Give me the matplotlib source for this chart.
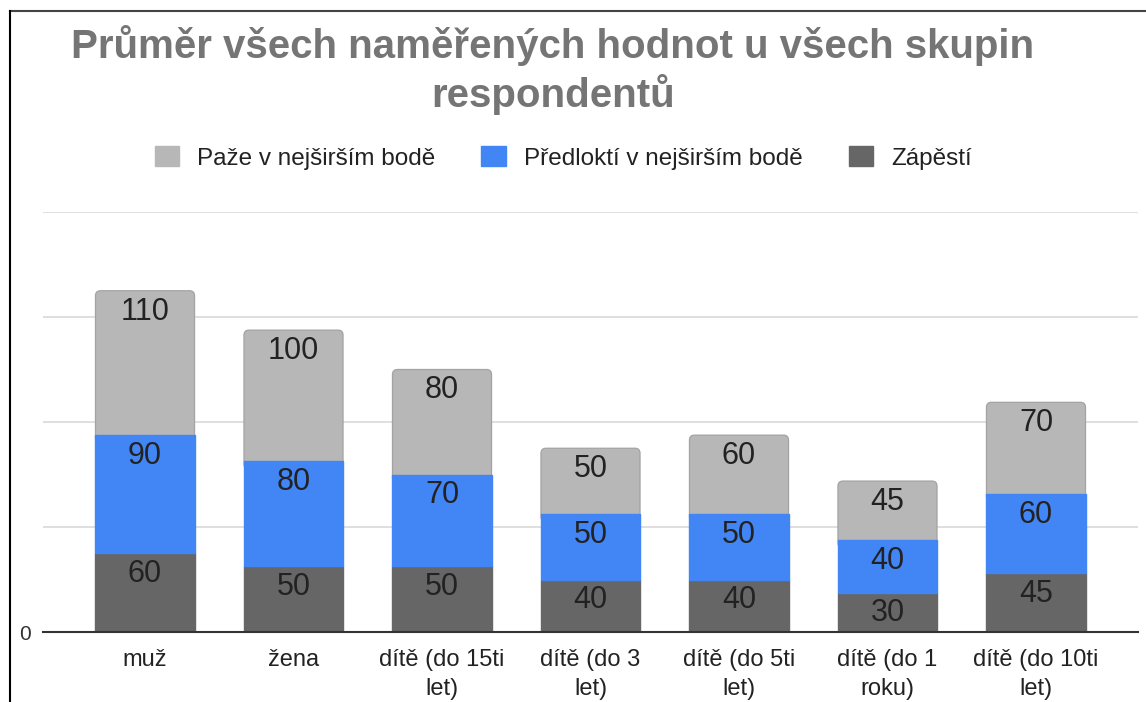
import matplotlib
matplotlib.use("Agg")
import matplotlib.pyplot as plt
from matplotlib.lines import Line2D
from matplotlib.patches import FancyBboxPatch
import numpy as np

plt.rcParams['font.family'] = ['Liberation Sans', 'DejaVu Sans']

categories = ["muž", "žena", "dítě (do 15ti\nlet)", "dítě (do 3\nlet)", "dítě (do 5ti\nlet)", "dítě (do 1\nroku)", "dítě (do 10ti\nlet)"]
zapesti = [60, 50, 50, 40, 40, 30, 45]
predlokti = [90, 80, 70, 50, 50, 40, 60]
paze = [110, 100, 80, 50, 60, 45, 70]
series_names = ["Paže v nejširším bodě", "Předloktí v nejširším bodě", "Zápěstí"]
colors = {"paze": "#b7b7b7", "predlokti": "#4285f4", "zapesti": "#666666"}

W, H = 1146, 702
fig = plt.figure(figsize=(W / 100, H / 100), dpi=100)
ax = fig.add_axes([43 / W, (H - 632) / H, (1138 - 43) / W, (632 - 212) / H])

x = np.arange(len(categories))
bw = 0.667
ax.set_xlim(-0.687, len(categories) - 1 + 0.687)
ax.set_ylim(0, 320)

b1 = ax.bar(x, zapesti, bw, color=colors["zapesti"], edgecolor=colors["zapesti"], linewidth=1.0, zorder=3)
b2 = ax.bar(x, predlokti, bw, bottom=zapesti, color=colors["predlokti"],
            edgecolor=colors["predlokti"], linewidth=1.0, zorder=3)
bottom3 = np.array(zapesti) + np.array(predlokti)
b3 = ax.bar(x, paze, bw, bottom=bottom3, color=colors["paze"], zorder=2.9)

# rounded top corners for the top segment (bottom part hidden behind blue)
px_x = (1138 - 43) / (ax.get_xlim()[1] - ax.get_xlim()[0])
px_y = (632 - 212) / 320.0
r_x = 5 / px_x
for rect in b3:
    rect.set_visible(False)
    x0, y0 = rect.get_x(), rect.get_y()
    w, h = rect.get_width(), rect.get_height()
    p = FancyBboxPatch((x0, y0 - 6), w, h + 6,
                       boxstyle=f"round,pad=0,rounding_size={r_x}",
                       mutation_aspect=px_x / px_y,
                       facecolor=colors["paze"], edgecolor="#a3a3a3", linewidth=0.9, zorder=2.9)
    ax.add_patch(p)

for vals, bots in [(zapesti, np.zeros(len(x))), (predlokti, zapesti), (paze, bottom3)]:
    for xi, v, b in zip(x, vals, bots):
        ax.annotate(str(v), (xi, b + v), xytext=(0, -15), textcoords="offset points",
                    ha="center", va="center", fontsize=22, color="#222222", zorder=5)

ax.set_yticks([0, 80, 160, 240, 320])
ax.set_yticklabels(["0", "", "", "", ""])
ax.yaxis.grid(True, color="#d9d9d9", linewidth=1.2, zorder=0)
ax.set_axisbelow(True)
ax.tick_params(axis="y", length=0, labelsize=15, labelcolor="#333333", pad=9)
ax.tick_params(axis="x", length=0, labelsize=17, labelcolor="#222222", pad=12)
ax.set_xticks(x)
ax.set_xticklabels(categories, linespacing=1.43)
for s in ["top", "right", "left"]:
    ax.spines[s].set_visible(False)
ax.spines["bottom"].set_color("#333333")
ax.spines["bottom"].set_linewidth(1.5)
ax.spines["bottom"].set_zorder(4)

fig.text(553 / W, 1 - 70 / H, "Průměr všech naměřených hodnot u všech skupin\nrespondentů",
         ha="center", va="center", fontsize=29, fontweight="bold", color="#757575", linespacing=1.24)

handles = [plt.Rectangle((0, 0), 1, 1, color=colors["paze"]),
           plt.Rectangle((0, 0), 1, 1, color=colors["predlokti"]),
           plt.Rectangle((0, 0), 1, 1, color=colors["zapesti"])]
fig.legend(handles, series_names, loc="center", bbox_to_anchor=(563 / W, 1 - 158 / H), ncol=3,
           frameon=False, fontsize=17.5, handlelength=1.0, handleheight=0.9, columnspacing=1.9,
           handletextpad=0.74, labelcolor="#222222")

# outer frame lines
fig.add_artist(Line2D([10 / W, 1], [1 - 11 / H, 1 - 11 / H], color="#444444", linewidth=1.5))
fig.add_artist(Line2D([10 / W, 10 / W], [0, 1 - 11 / H], color="#000000", linewidth=1.5))

fig.savefig("out.png", dpi=100)
